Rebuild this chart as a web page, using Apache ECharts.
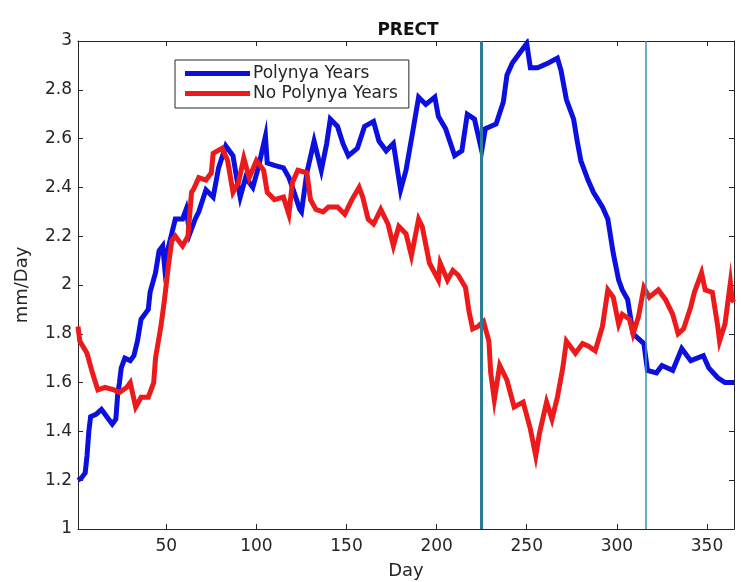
<!DOCTYPE html>
<html>
<head>
<meta charset="utf-8">
<script src="https://cdn.jsdelivr.net/npm/echarts@6.0.0/dist/echarts.min.js"></script>
<style>
  html, body { margin: 0; padding: 0; background: #ffffff; }
  #chart { width: 743px; height: 582px; }
</style>
</head>
<body>
<div id="chart"></div>
<script>
// Daily precipitation (mm/Day), smoothed, for two groups of years
const polynyaDays = [1,3,5,6,7,8,11,14,16,18,20,22,23,24,25,27,30,32,34,36,40,41,44,46,48,49,50,54,55,59,61,63,66,68,72,76,79,83,87,89,91,94,98,101,105,106,110,115,118,120,124,125,128,132,136,139,141,145,148,151,156,160,165,168,172,176,180,183,187,190,194,199,201,205,210,214,217,221,225,227,233,237,239,242,247,250,252,256,262,267,269,272,276,278,280,284,287,292,295,298,301,303,306,309,315,317,322,325,331,336,341,348,351,356,360,365];
const polynyaValues = [1.20,1.21,1.23,1.30,1.40,1.46,1.47,1.49,1.47,1.45,1.43,1.45,1.55,1.60,1.66,1.70,1.69,1.71,1.77,1.86,1.90,1.97,2.05,2.14,2.16,2.08,2.12,2.24,2.27,2.27,2.31,2.21,2.27,2.30,2.39,2.36,2.48,2.57,2.53,2.44,2.36,2.44,2.40,2.48,2.61,2.50,2.49,2.48,2.44,2.40,2.31,2.30,2.46,2.59,2.47,2.58,2.68,2.65,2.58,2.53,2.56,2.65,2.67,2.59,2.55,2.58,2.39,2.47,2.64,2.77,2.74,2.77,2.69,2.64,2.53,2.55,2.70,2.68,2.55,2.64,2.66,2.75,2.86,2.91,2.96,2.99,2.89,2.89,2.91,2.93,2.88,2.76,2.68,2.59,2.51,2.43,2.38,2.32,2.27,2.13,2.02,1.98,1.94,1.80,1.76,1.65,1.64,1.67,1.65,1.74,1.69,1.71,1.66,1.62,1.60,1.60];

const noPolynyaDays = [1,2,6,9,12,16,21,24,28,30,33,36,40,43,44,47,49,51,53,55,59,62,64,65,68,72,75,76,81,84,87,90,93,96,100,104,106,110,115,118,120,123,128,130,133,137,140,145,149,153,157,159,162,165,169,173,176,179,183,186,190,192,196,201,202,206,209,212,216,218,220,223,226,229,230,232,235,239,243,248,252,255,257,261,264,267,270,272,277,281,284,288,292,295,298,301,303,307,309,312,315,318,323,327,331,334,337,341,343,347,349,353,356,357,360,363,364,365];
const noPolynyaValues = [1.83,1.77,1.72,1.64,1.57,1.58,1.57,1.56,1.58,1.60,1.50,1.54,1.54,1.60,1.70,1.83,1.94,2.07,2.18,2.20,2.16,2.20,2.38,2.39,2.44,2.43,2.46,2.54,2.56,2.51,2.38,2.42,2.52,2.44,2.51,2.47,2.38,2.35,2.36,2.29,2.42,2.47,2.46,2.35,2.31,2.30,2.32,2.32,2.29,2.35,2.40,2.36,2.27,2.25,2.31,2.25,2.16,2.24,2.21,2.12,2.27,2.24,2.09,2.02,2.09,2.02,2.06,2.04,1.99,1.89,1.82,1.83,1.85,1.77,1.64,1.53,1.67,1.61,1.50,1.52,1.41,1.30,1.39,1.52,1.45,1.54,1.66,1.77,1.72,1.76,1.75,1.73,1.83,1.98,1.95,1.84,1.88,1.86,1.80,1.87,1.99,1.95,1.98,1.94,1.88,1.80,1.82,1.91,1.97,2.05,1.98,1.97,1.83,1.77,1.84,2.01,1.94,1.93];

// Axis ticks
const dayTicks = [50,100,150,200,250,300,350];
const dayRange = [1, 365];
const rateRange = [1, 3];
const rateStep = 0.2;

// Marked days (vertical reference lines)
const markedDays = [225, 316];

const seriesNames = ['Polynya Years', 'No Polynya Years'];

const pairs = (xs, ys) => xs.map((x, i) => [x, ys[i]]);

const axisColor = '#262626';
const font = 'DejaVu Sans';

const chart = echarts.init(document.getElementById('chart'));

const xBase = {
  type: 'value',
  min: dayRange[0],
  max: dayRange[1],
  splitLine: { show: false },
  axisLine: { show: true, onZero: false, lineStyle: { color: axisColor, width: 1 } },
  axisTick: { show: true, inside: true, length: 5, customValues: dayTicks, lineStyle: { color: axisColor } }
};
const yBase = {
  type: 'value',
  min: rateRange[0],
  max: rateRange[1],
  interval: rateStep,
  splitLine: { show: false },
  axisLine: { show: true, onZero: false, lineStyle: { color: axisColor, width: 1 } },
  axisTick: { show: true, inside: true, length: 5, lineStyle: { color: axisColor } }
};

chart.setOption({
  animation: false,
  backgroundColor: '#ffffff',
  title: {
    text: 'PRECT',
    left: 403,
    top: 17,
    textAlign: 'center',
    textStyle: { fontFamily: font, fontSize: 17, fontWeight: 'bold', color: '#111111' }
  },
  grid: { left: 78, top: 41, right: 9, bottom: 53, containLabel: false, outerBoundsMode: 'none' },
  legend: {
    left: 175,
    top: 60,
    orient: 'vertical',
    icon: 'rect',
    itemWidth: 65,
    itemHeight: 5,
    itemGap: 3,
    padding: [5, 11, 6, 10],
    borderColor: '#262626',
    borderWidth: 1,
    backgroundColor: '#ffffff',
    data: seriesNames,
    textStyle: { fontFamily: font, fontSize: 17, color: '#262626', padding: [0, 0, 0, -2] }
  },
  xAxis: [
    Object.assign({}, xBase, {
      position: 'bottom',
      name: 'Day',
      nameLocation: 'middle',
      nameGap: 33,
      nameTextStyle: { fontFamily: font, fontSize: 18, color: axisColor },
      axisLabel: { show: true, customValues: dayTicks, margin: 9, fontFamily: font, fontSize: 17, color: axisColor }
    }),
    Object.assign({}, xBase, { position: 'top', axisLabel: { show: false } })
  ],
  yAxis: [
    Object.assign({}, yBase, {
      position: 'left',
      name: 'mm/Day',
      nameLocation: 'middle',
      nameGap: 47,
      nameRotate: 90,
      nameTextStyle: { fontFamily: font, fontSize: 18, color: axisColor },
      axisLabel: { show: true, margin: 6, fontFamily: font, fontSize: 17, color: axisColor }
    }),
    Object.assign({}, yBase, { position: 'right', axisLabel: { show: false } })
  ],
  series: [
    {
      name: seriesNames[0],
      type: 'line',
      data: pairs(polynyaDays, polynyaValues),
      showSymbol: false,
      symbol: 'none',
      color: '#0b10e0',
      lineStyle: { width: 5, color: '#0b10e0', join: 'miter' },
      z: 2,
      markLine: {
        silent: true,
        symbol: 'none',
        label: { show: false },
        animation: false,
        data: [
          { xAxis: markedDays[0], lineStyle: { type: 'solid', color: '#2b7d96', width: 3 } },
          { xAxis: markedDays[1], lineStyle: { type: 'solid', color: '#3a93ad', width: 1.5 } }
        ]
      }
    },
    {
      name: seriesNames[1],
      type: 'line',
      data: pairs(noPolynyaDays, noPolynyaValues),
      showSymbol: false,
      symbol: 'none',
      color: '#ec1a1a',
      lineStyle: { width: 5, color: '#ec1a1a', join: 'miter' },
      z: 3
    }
  ]
});
</script>
</body>
</html>
